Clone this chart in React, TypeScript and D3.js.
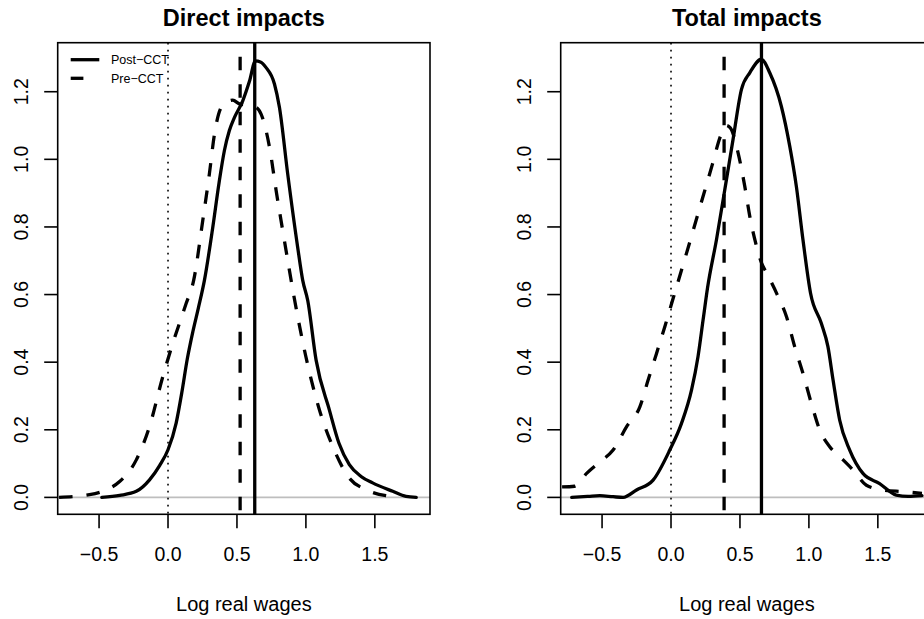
import React from "react";
import * as d3 from "d3";

// ---- Data ----
const titles = ["Direct impacts", "Total impacts"];
const xLabel = "Log real wages";
const legendLabels = ["Post\u2212CCT", "Pre\u2212CCT"];
const xTicks = [-0.5, 0.0, 0.5, 1.0, 1.5];
const yTicks = [0.0, 0.2, 0.4, 0.6, 0.8, 1.0, 1.2];

// Direct impacts: Post-CCT density
const directPostX = [-0.48, -0.35, -0.23, -0.134, -0.06, 0.0, 0.059, 0.1, 0.14, 0.18, 0.22, 0.264, 0.325, 0.37, 0.409, 0.445, 0.482, 0.542, 0.59, 0.634, 0.67, 0.71, 0.772, 0.808, 0.868, 0.94, 0.977, 1.013, 1.074, 1.17, 1.24, 1.315, 1.4, 1.484, 1.63, 1.726, 1.8];
const directPostY = [0.0, 0.006, 0.018, 0.052, 0.095, 0.141, 0.22, 0.31, 0.41, 0.49, 0.56, 0.642, 0.8, 0.93, 1.026, 1.085, 1.124, 1.173, 1.23, 1.291, 1.288, 1.272, 1.223, 1.154, 0.957, 0.741, 0.642, 0.583, 0.406, 0.259, 0.16, 0.097, 0.062, 0.043, 0.018, 0.003, 0.0];

// Direct impacts: Pre-CCT density
const directPreX = [-0.79, -0.569, -0.45, -0.351, -0.23, -0.134, -0.038, 0.035, 0.132, 0.186, 0.252, 0.3, 0.337, 0.386, 0.43, 0.47, 0.518, 0.58, 0.639, 0.675, 0.736, 0.784, 0.844, 0.911, 1.0, 1.098, 1.194, 1.315, 1.436, 1.58, 1.65];
const directPreY = [0.0, 0.008, 0.022, 0.047, 0.111, 0.21, 0.357, 0.456, 0.574, 0.642, 0.819, 0.957, 1.075, 1.154, 1.17, 1.175, 1.164, 1.16, 1.154, 1.134, 1.036, 0.908, 0.76, 0.6, 0.416, 0.259, 0.151, 0.057, 0.023, 0.005, 0.002];

// Total impacts: Post-CCT density
const totalPostX = [-0.72, -0.6, -0.516, -0.42, -0.347, -0.25, -0.13, -0.009, 0.076, 0.149, 0.196, 0.233, 0.265, 0.33, 0.402, 0.45, 0.511, 0.571, 0.656, 0.716, 0.8, 0.861, 0.909, 0.957, 1.012, 1.09, 1.138, 1.175, 1.223, 1.296, 1.392, 1.513, 1.634, 1.72, 1.82];
const totalPostY = [0.0, 0.003, 0.005, 0.002, 0.0, 0.022, 0.051, 0.14, 0.219, 0.318, 0.417, 0.526, 0.62, 0.763, 0.94, 1.059, 1.207, 1.256, 1.296, 1.256, 1.157, 1.039, 0.92, 0.762, 0.604, 0.515, 0.446, 0.348, 0.229, 0.14, 0.071, 0.041, 0.007, 0.003, 0.005];

// Total impacts: Pre-CCT density
const totalPreX = [-0.79, -0.7, -0.612, -0.516, -0.42, -0.322, -0.226, -0.166, -0.105, -0.045, 0.022, 0.1, 0.2, 0.3, 0.36, 0.4, 0.43, 0.486, 0.535, 0.571, 0.62, 0.656, 0.692, 0.77, 0.837, 0.897, 0.957, 1.018, 1.078, 1.151, 1.223, 1.32, 1.417, 1.537, 1.682, 1.82];
const totalPreY = [0.031, 0.033, 0.071, 0.105, 0.14, 0.209, 0.268, 0.347, 0.426, 0.505, 0.598, 0.705, 0.845, 0.985, 1.07, 1.1, 1.093, 1.02, 0.92, 0.832, 0.743, 0.694, 0.665, 0.6, 0.535, 0.446, 0.367, 0.278, 0.2, 0.15, 0.121, 0.081, 0.036, 0.022, 0.017, 0.012];

// Means (vertical reference lines)
const postMeans = [0.629, 0.656];
const preMeans = [0.523, 0.385];

const panels = [
  { title: titles[0], postX: directPostX, postY: directPostY, preX: directPreX, preY: directPreY, postMean: postMeans[0], preMean: preMeans[0], legend: true },
  { title: titles[1], postX: totalPostX, postY: totalPostY, preX: totalPreX, preY: totalPreY, postMean: postMeans[1], preMean: preMeans[1], legend: false },
];

// ---- Layout ----
const W = 924;
const H = 619;
const boxLefts = [57.7, 560.7];
const boxWidth = 372.3;
const boxTop = 42.7;
const boxBottom = 514.3;
const FONT = "'Liberation Sans', Arial, Helvetica, sans-serif";
const LW = 3.3;
const DASH = "13.5,14";

function Panel({ p, left }: { p: any; left: number }) {
  const x = d3.scaleLinear().domain([-0.8, 1.9]).range([left, left + boxWidth]);
  const y = d3.scaleLinear().domain([-0.05, 1.345]).range([boxBottom, boxTop]);
  const line = d3
    .line<[number, number]>()
    .x((d) => x(d[0]))
    .y((d) => y(d[1]))
    .curve(d3.curveMonotoneX);
  const post = line(p.postX.map((v: number, i: number) => [v, p.postY[i]]));
  const pre = line(p.preX.map((v: number, i: number) => [v, p.preY[i]]));
  const cx = left + boxWidth / 2;
  const clipId = `clip-${Math.round(left)}`;
  return (
    <g>
      <defs>
        <clipPath id={clipId}>
          <rect x={left} y={boxTop} width={boxWidth} height={boxBottom - boxTop} />
        </clipPath>
      </defs>
      <g clipPath={`url(#${clipId})`}>
        <line x1={left} x2={left + boxWidth} y1={y(0)} y2={y(0)} stroke="#bebebe" strokeWidth={1.7} />
        <line x1={x(0)} x2={x(0)} y1={boxTop} y2={boxBottom} stroke="#000" strokeWidth={1.6} strokeDasharray="1.8,5.2" />
        <path d={post || ""} fill="none" stroke="#000" strokeWidth={LW} strokeLinejoin="round" strokeLinecap="round" />
        <path d={pre || ""} fill="none" stroke="#000" strokeWidth={LW} strokeDasharray={DASH} strokeLinejoin="round" />
        <line x1={x(p.postMean)} x2={x(p.postMean)} y1={boxTop} y2={boxBottom} stroke="#000" strokeWidth={LW} />
        <line x1={x(p.preMean)} x2={x(p.preMean)} y1={boxTop} y2={boxBottom} stroke="#000" strokeWidth={LW} strokeDasharray={DASH} strokeDashoffset={13.5} />
      </g>
      <rect x={left} y={boxTop} width={boxWidth} height={boxBottom - boxTop} fill="none" stroke="#000" strokeWidth={1.6} />
      {xTicks.map((t) => (
        <g key={`x${t}`}>
          <line x1={x(t)} x2={x(t)} y1={boxBottom} y2={boxBottom + 14} stroke="#000" strokeWidth={1.6} />
          <text x={x(t)} y={561} textAnchor="middle" fontSize={19.5} fontFamily={FONT}>
            {t < 0 ? "\u2212" + Math.abs(t).toFixed(1) : t.toFixed(1)}
          </text>
        </g>
      ))}
      {yTicks.map((t) => (
        <g key={`y${t}`}>
          <line x1={left - 13.5} x2={left} y1={y(t)} y2={y(t)} stroke="#000" strokeWidth={1.6} />
          <text
            transform={`translate(${left - 29.4},${y(t)}) rotate(-90)`}
            textAnchor="middle"
            fontSize={19.5}
            fontFamily={FONT}
          >
            {t.toFixed(1)}
          </text>
        </g>
      ))}
      <text x={cx} y={26} textAnchor="middle" fontSize={23.5} fontWeight="bold" fontFamily={FONT}>
        {p.title}
      </text>
      <text x={cx} y={611} textAnchor="middle" fontSize={20} fontFamily={FONT}>
        {xLabel}
      </text>
      {p.legend && (
        <g>
          <line x1={left + 13} x2={left + 41.6} y1={59.7} y2={59.7} stroke="#000" strokeWidth={LW} />
          <line x1={left + 13} x2={left + 41.6} y1={78.3} y2={78.3} stroke="#000" strokeWidth={LW} strokeDasharray="12.7,20" />
          <text x={left + 53.3} y={64.2} fontSize={12.5} fontFamily={FONT}>
            {legendLabels[0]}
          </text>
          <text x={left + 53.3} y={82.8} fontSize={12.5} fontFamily={FONT}>
            {legendLabels[1]}
          </text>
        </g>
      )}
    </g>
  );
}

export default function App() {
  return (
    <svg
      width={W}
      height={H}
      viewBox={`0 0 ${W} ${H}`}
      style={{ position: "absolute", left: 0, top: 0, background: "#fff" }}
    >
      <rect x={0} y={0} width={W} height={H} fill="#fff" />
      {panels.map((p, i) => (
        <Panel key={i} p={p} left={boxLefts[i]} />
      ))}
    </svg>
  );
}
